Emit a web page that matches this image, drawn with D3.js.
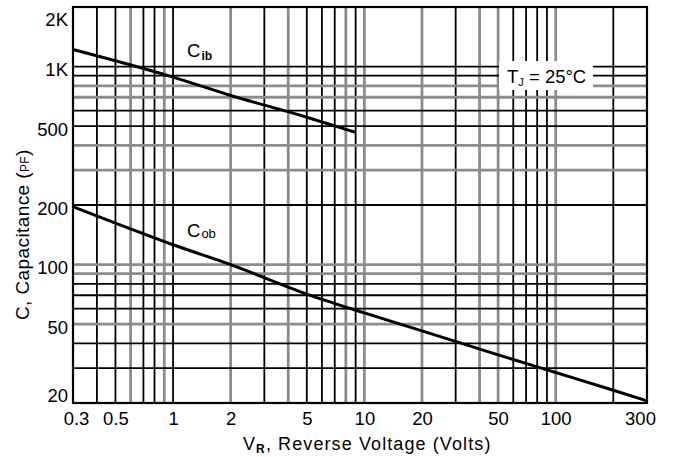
<!DOCTYPE html>
<html>
<head>
<meta charset="utf-8">
<script src="https://cdn.jsdelivr.net/npm/d3@7"></script>
<style>
  html, body { margin: 0; padding: 0; background: #fff; }
  svg text { font-family: "Liberation Sans", Arial, sans-serif; fill: #000; }
</style>
</head>
<body>
<div id="chart"></div>
<script>
// reverse voltage (V) and capacitance (pF)
const cibVolts = [0.3, 1, 2, 5, 9];
const cibPf = [1220, 885, 715, 555, 465];
const cobVolts = [0.3, 0.5, 1, 2, 5, 10, 20, 50, 100, 200, 300];
const cobPf = [196, 162, 126, 100, 71, 57, 46.3, 35, 28.5, 23.2, 20.5];

// tick labels
const xLabels = [0.3, 0.5, 1, 2, 5, 10, 20, 50, 100, 300];
const yLabels = [20, 50, 100, 200, 500, 1000, 2000];

// grid lines that came out grey on the scan
const greyX = [0.6, 0.9, 2, 4, 8, 10, 20, 40, 50, 100];
const greyY = [800, 700, 400, 300, 100, 90, 50];

// set the dimensions and margins of the graph
var margin = {top: 7, right: 26, bottom: 54, left: 73},
    width = 673 - margin.left - margin.right,
    height = 457 - margin.top - margin.bottom;

var svg = d3.select("#chart")
  .append("svg")
  .attr("width", 673)
  .attr("height", 457)
  .append("g")
  .attr("transform", "translate(" + margin.left + "," + margin.top + ")");

var x = d3.scaleLog().domain([0.3, 300]).range([0, width]);
var y = d3.scaleLog().domain([20, 2000]).range([height, 0]);

function isGrey(list, v) {
  return list.some(function(g) { return Math.abs(g - v) < 1e-6; });
}

// grid: every 1..9 step of each decade
var gx = x.ticks().filter(function(v) { return v > 0.3 && v < 300; });
var gy = y.ticks().filter(function(v) { return v > 20 && v < 2000; });

svg.append("g").selectAll("line")
  .data(gx)
  .enter().append("line")
  .attr("x1", function(d) { return x(d); })
  .attr("x2", function(d) { return x(d); })
  .attr("y1", 0)
  .attr("y2", height)
  .attr("stroke", function(d) { return isGrey(greyX, d) ? "#8c8c8c" : "#000"; })
  .attr("stroke-width", function(d) { return isGrey(greyX, d) ? 2.8 : 1.8; });

svg.append("g").selectAll("line")
  .data(gy)
  .enter().append("line")
  .attr("y1", function(d) { return y(d); })
  .attr("y2", function(d) { return y(d); })
  .attr("x1", 0)
  .attr("x2", width)
  .attr("stroke", function(d) { return isGrey(greyY, d) ? "#8c8c8c" : "#000"; })
  .attr("stroke-width", function(d) { return isGrey(greyY, d) ? 2.8 : 1.8; });

// white patch under the temperature note
svg.append("rect")
  .attr("x", 426)
  .attr("y", 54)
  .attr("width", 94)
  .attr("height", 29)
  .attr("fill", "#fff");

// frame
svg.append("rect")
  .attr("width", width)
  .attr("height", height)
  .attr("fill", "none")
  .attr("stroke", "#000")
  .attr("stroke-width", 2.2);

// curves
var line = d3.line()
  .x(function(d) { return x(d[0]); })
  .y(function(d) { return y(d[1]); })
  .curve(d3.curveMonotoneX);

svg.append("path")
  .datum(d3.zip(cibVolts, cibPf))
  .attr("d", line)
  .attr("fill", "none")
  .attr("stroke", "#000")
  .attr("stroke-width", 3);

svg.append("path")
  .datum(d3.zip(cobVolts, cobPf))
  .attr("d", line)
  .attr("fill", "none")
  .attr("stroke", "#000")
  .attr("stroke-width", 3);

// axes
var xAxis = svg.append("g")
  .attr("transform", "translate(0," + height + ")")
  .call(d3.axisBottom(x).tickValues(xLabels).tickSize(0).tickPadding(9)
    .tickFormat(function(d) { return String(d); }));
xAxis.select(".domain").remove();
xAxis.selectAll("text")
  .style("font-size", "18.5px")
  .attr("dx", function(d, i) { return i == 0 ? 3 : (i == xLabels.length - 1 ? -7 : 0); });

var yAxis = svg.append("g")
  .call(d3.axisLeft(y).tickValues(yLabels).tickSize(0).tickPadding(5)
    .tickFormat(function(d) { return d >= 1000 ? (d / 1000) + "K" : String(d); }));
yAxis.select(".domain").remove();
yAxis.selectAll("text")
  .style("font-size", "18.5px")
  .attr("dy", function(d) { return d == 2000 ? "1.0em" : (d == 20 ? "-0.1em" : "0.5em"); });

// curve labels
var lab1 = svg.append("text").attr("x", 114).attr("y", 50).style("font-size", "18.5px");
lab1.append("tspan").text("C");
lab1.append("tspan").attr("dx", 1).attr("dy", 3).style("font-size", "12px").style("font-weight", "bold").text("ib");

var lab2 = svg.append("text").attr("x", 114).attr("y", 230).style("font-size", "18.5px");
lab2.append("tspan").text("C");
lab2.append("tspan").attr("dx", 1).attr("dy", 1).style("font-size", "13px").text("ob");

var tj = svg.append("text").attr("x", 434).attr("y", 76).style("font-size", "18.5px");
tj.append("tspan").text("T");
tj.append("tspan").attr("dy", 3).style("font-size", "11px").text("J");
tj.append("tspan").attr("dy", -3).text(" = 25°C");

// axis titles
var xt = svg.append("text")
  .attr("x", 243 - margin.left)
  .attr("y", 450 - margin.top)
  .style("font-size", "18px")
  .style("letter-spacing", "1.1px");
xt.append("tspan").text("V");
xt.append("tspan").attr("dy", 3).style("font-size", "12px").style("font-weight", "bold").text("R");
xt.append("tspan").attr("dy", -3).text(", Reverse Voltage (Volts)");

var yt = svg.append("text")
  .attr("transform", "translate(" + (28.5 - margin.left) + "," + (320 - margin.top) + ") rotate(-90)")
  .style("font-size", "19px")
  .style("letter-spacing", "0.4px");
yt.append("tspan").text("C, Capacitance (");
yt.append("tspan").style("font-size", "12px").text("PF");
yt.append("tspan").text(")");
</script>
</body>
</html>
